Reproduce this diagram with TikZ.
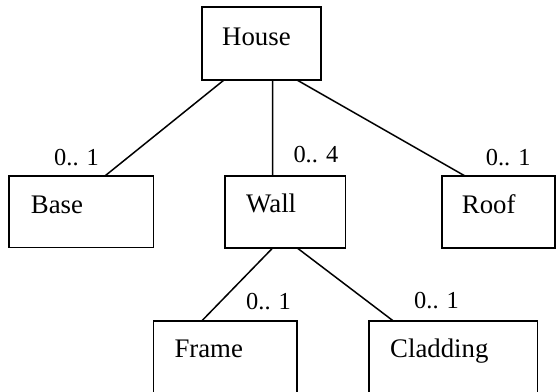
\documentclass[tikz,border=0pt]{standalone}
\usepackage{fontspec}
\setmainfont{Liberation Serif}
\begin{document}
\begin{tikzpicture}[x=1pt,y=-1pt,
  box/.style={draw,line width=1.6pt,rectangle,inner sep=0pt,outer sep=0pt},
  clsname/.style={anchor=base west,inner sep=0pt,font=\fontsize{26.8}{32}\selectfont},
  mult/.style={anchor=base west,inner sep=0pt,font=\fontsize{24.4}{29}\selectfont},
  link/.style={line width=1.5pt}]
\useasboundingbox (0,0) rectangle (557,391);
\clip (0,0) rectangle (557,391);

% class boxes
\node[box,minimum width=119pt,minimum height=73pt] (house) at (261.5,43.5) {};
\node[box,minimum width=144.7pt,minimum height=71.7pt] (base) at (81.3,211.8) {};
\node[box,minimum width=120.7pt,minimum height=72pt] (wall) at (285.3,212) {};
\node[box,minimum width=113.5pt,minimum height=72pt] (roof) at (498.5,212) {};
\node[box,minimum width=143.4pt,minimum height=90pt] (frame) at (225,366) {};
\node[box,minimum width=168.3pt,minimum height=90pt] (cladding) at (453.2,366) {};

% class names
\node[clsname] (thouse) at (222,45) {House};
\node[clsname] (tbase) at (30.7,213) {Base};
\node[clsname] (twall) at (246,212.7) {Wall};
\node[clsname] (troof) at (461.7,213) {Roof};
\node[clsname] (tframe) at (174.3,357) {Frame};
\node[clsname] (tcladding) at (390,357) {Cladding};

% aggregation links
\draw[link] ([xshift=22pt]house.south west) -- ([xshift=96pt]base.north west);
\draw[link] ([xshift=70.7pt]house.south west) -- ([xshift=47.7pt]wall.north west);
\draw[link] ([xshift=95pt]house.south west) -- ([xshift=23.3pt]roof.north west);
\draw[link] ([xshift=47.7pt]wall.south west) -- ([xshift=48.4pt]frame.north west);
\draw[link] ([xshift=72.3pt]wall.south west) -- ([xshift=24.3pt]cladding.north west);

% multiplicities
\node[mult] (mbase) at (54,165) {0.. 1};
\node[mult] (mwall) at (293.3,162.7) {0.. 4};
\node[mult] (mroof) at (485.7,165) {0.. 1};
\node[mult] (mframe) at (246,309) {0.. 1};
\node[mult] (mcladding) at (414,308.5) {0.. 1};
\end{tikzpicture}
\end{document}
